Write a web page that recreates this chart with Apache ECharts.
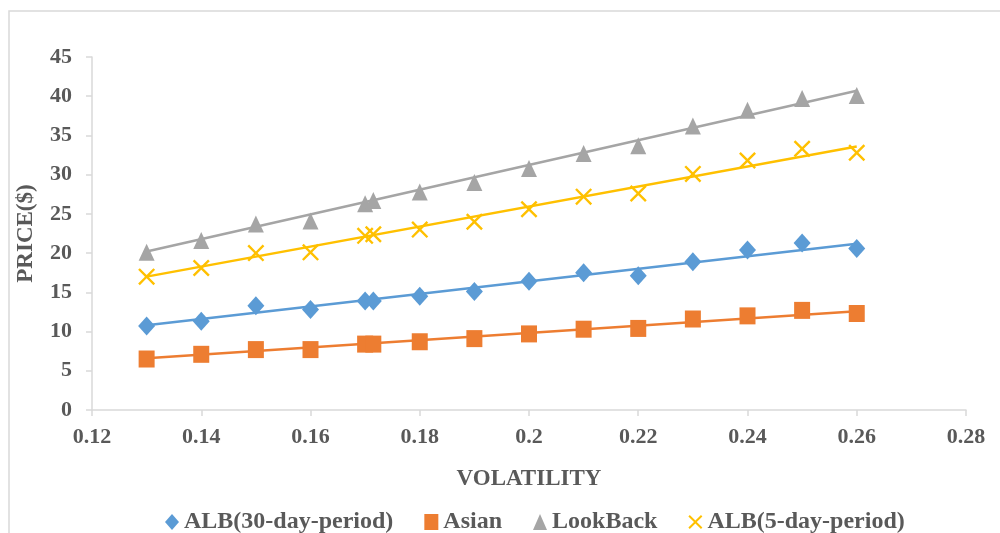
<!DOCTYPE html>
<html>
<head>
<meta charset="utf-8">
<script src="https://cdn.jsdelivr.net/npm/echarts@6/dist/echarts.min.js"></script>
<style>
html,body{margin:0;padding:0;background:#fff;}
#chart{width:1000px;height:533px;}
</style>
</head>
<body>
<div id="chart"></div>
<script>
// Data
var volatility = [0.13, 0.14, 0.15, 0.16, 0.17, 0.1715, 0.18, 0.19, 0.2, 0.21, 0.22, 0.23, 0.24, 0.25, 0.26];
var alb30 =    [10.7, 11.3, 13.3, 12.8, 13.9, 13.9, 14.5, 15.1, 16.4, 17.5, 17.1, 18.9, 20.4, 21.3, 20.6];
var asian =    [6.5, 7.1, 7.7, 7.7, 8.4, 8.4, 8.7, 9.1, 9.7, 10.3, 10.4, 11.6, 12.0, 12.7, 12.3];
var lookBack = [20.1, 21.6, 23.7, 24.1, 26.3, 26.7, 27.8, 29.0, 30.8, 32.7, 33.7, 36.2, 38.2, 39.7, 40.1];
var alb5 =     [17.0, 18.1, 20.0, 20.1, 22.2, 22.4, 23.0, 24.0, 25.6, 27.2, 27.6, 30.1, 31.8, 33.3, 32.8];

// Linear trend lines (end points)
var trendX = [0.13, 0.26];
var alb30Trend = [10.8, 21.2];
var asianTrend = [6.6, 12.6];
var lookBackTrend = [20.2, 40.7];
var alb5Trend = [17.0, 33.6];

var seriesNames = ['ALB(30-day-period)', 'Asian', 'LookBack', 'ALB(5-day-period)'];
var xTicks = {min: 0.12, max: 0.28, step: 0.02};
var yTicks = {min: 0, max: 45, step: 5};

function pairs(xs, ys) { return xs.map(function (x, i) { return [x, ys[i]]; }); }

var FONT = 'Liberation Serif';
var TXT = '#595959';
var AXIS = '#d9d9d9';
var colors = ['#5B9BD5', '#ED7D31', '#A5A5A5', '#FFC000'];
var crossPath = 'path://M0,1L1,0L5,4L9,0L10,1L6,5L10,9L9,10L5,6L1,10L0,9L4,5Z';

function trend(name, ys, color) {
  return {
    name: name + ' trend', type: 'line', data: pairs(trendX, ys),
    symbol: 'none', silent: true, z: 2,
    lineStyle: {color: color, width: 2.5}
  };
}
function scatter(name, ys, color, symbol, size) {
  return {
    name: name, type: 'scatter', data: pairs(volatility, ys),
    symbol: symbol, symbolSize: size, z: 3,
    itemStyle: {color: color, opacity: 1}
  };
}

var chart = echarts.init(document.getElementById('chart'), null, {renderer: 'canvas'});
chart.setOption({
  animation: false,
  backgroundColor: '#fff',
  graphic: [{
    type: 'rect', silent: true,
    shape: {x: 9, y: 11, width: 1100, height: 700},
    style: {fill: 'none', stroke: AXIS, lineWidth: 1.5}
  }],
  grid: {left: 92, right: 34, top: 57, bottom: 123},
  legend: {
    data: seriesNames,
    left: 160, top: 505,
    itemGap: 31, itemWidth: 14, itemHeight: 16,
    textStyle: {fontFamily: FONT, fontWeight: 'bold', fontSize: 24, color: TXT}
  },
  xAxis: {
    type: 'value', min: xTicks.min, max: xTicks.max, interval: xTicks.step,
    name: 'VOLATILITY', nameLocation: 'middle', nameGap: 58,
    nameTextStyle: {fontFamily: FONT, fontWeight: 'bold', fontSize: 23, color: TXT},
    axisLine: {show: true, lineStyle: {color: AXIS, width: 1.5}},
    axisTick: {show: true, length: 6, lineStyle: {color: AXIS, width: 1.5}},
    axisLabel: {margin: 16, fontFamily: FONT, fontWeight: 'bold', fontSize: 22, color: TXT},
    splitLine: {show: false}
  },
  yAxis: {
    type: 'value', min: yTicks.min, max: yTicks.max, interval: yTicks.step,
    name: 'PRICE($)', nameLocation: 'middle', nameGap: 54,
    nameTextStyle: {fontFamily: FONT, fontWeight: 'bold', fontSize: 23, color: TXT},
    axisLine: {show: true, lineStyle: {color: AXIS, width: 1.5}},
    axisTick: {show: true, length: 6, lineStyle: {color: AXIS, width: 1.5}},
    axisLabel: {margin: 20, fontFamily: FONT, fontWeight: 'bold', fontSize: 22, color: TXT},
    splitLine: {show: false}
  },
  series: [
    trend(seriesNames[0], alb30Trend, colors[0]),
    trend(seriesNames[1], asianTrend, colors[1]),
    trend(seriesNames[2], lookBackTrend, colors[2]),
    trend(seriesNames[3], alb5Trend, colors[3]),
    scatter(seriesNames[0], alb30, colors[0], 'diamond', [17, 19]),
    scatter(seriesNames[1], asian, colors[1], 'rect', [16, 17]),
    scatter(seriesNames[2], lookBack, colors[2], 'triangle', [16, 17]),
    scatter(seriesNames[3], alb5, colors[3], crossPath, [17, 17])
  ]
});
</script>
</body>
</html>
